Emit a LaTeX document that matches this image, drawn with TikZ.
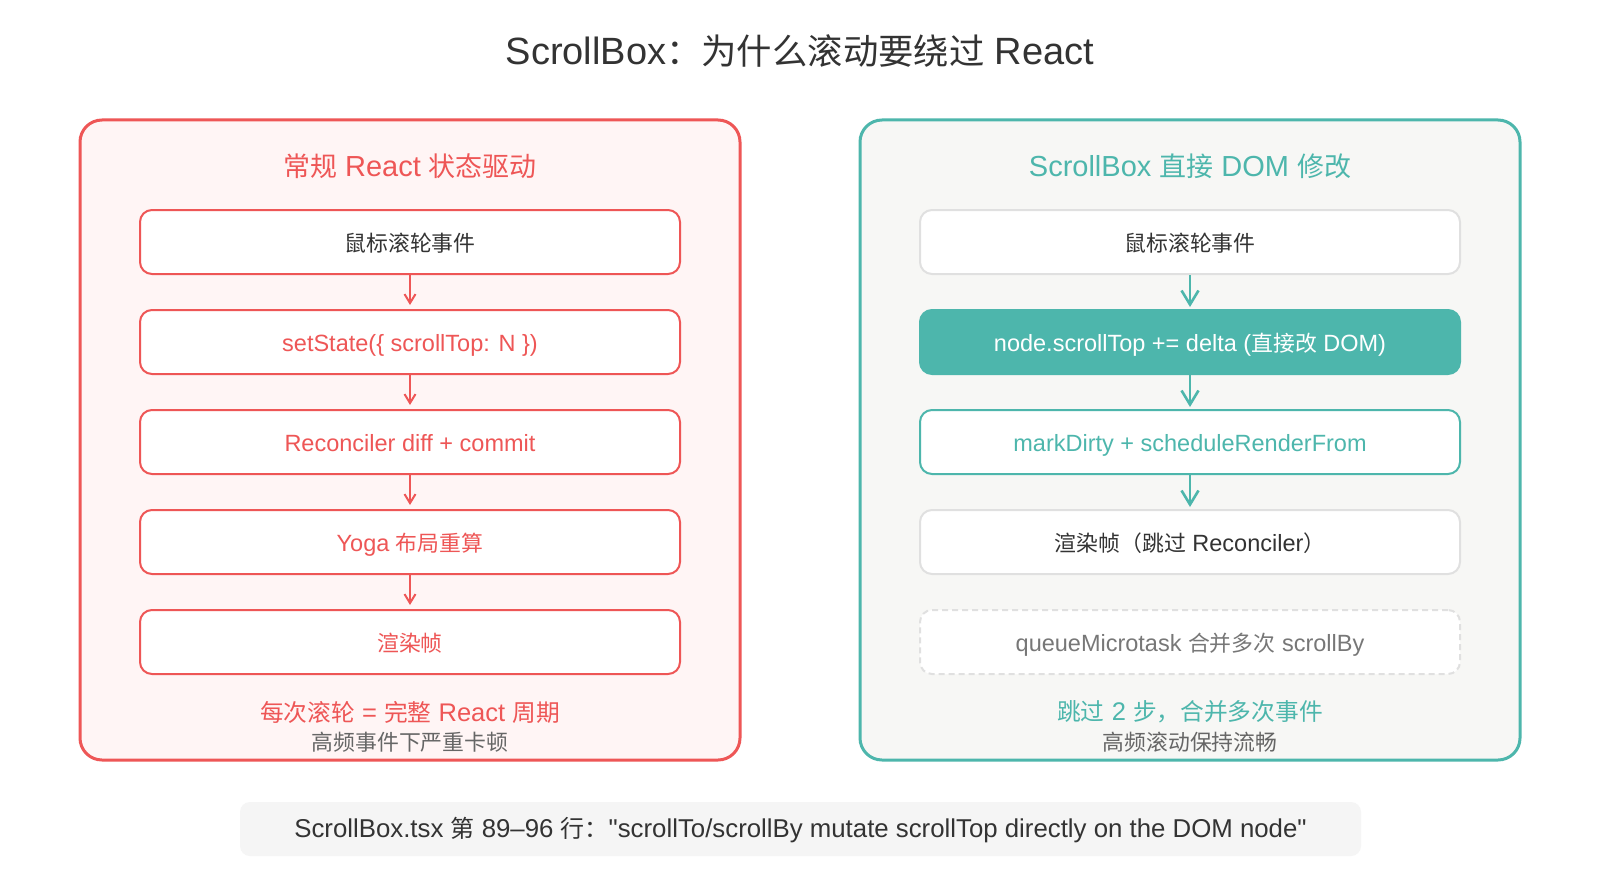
\documentclass[tikz,border=0pt]{standalone}
\usepackage{fontspec}
\setmainfont{Liberation Sans}[Ligatures=TeXOff]
\newfontfamily\cjkfont{Noto Sans CJK SC}[Scale=0.93]
\newcommand{\zh}[1]{{\cjkfont #1}}
\usetikzlibrary{arrows.meta}
\definecolor{cred}{HTML}{EE5656}
\definecolor{cteal}{HTML}{4DB6AC}
\definecolor{lfill}{HTML}{FFF5F5}
\definecolor{rfill}{HTML}{F7F7F5}
\definecolor{gborder}{HTML}{E0E0E0}
\definecolor{dtext}{HTML}{333333}
\definecolor{gtext}{HTML}{666666}
\definecolor{ltext}{HTML}{777777}
\definecolor{notefill}{HTML}{F5F5F5}
\newcommand{\fs}[1]{\fontsize{#1}{#1}\selectfont}
\tikzset{
  panelbox/.style={rectangle, rounded corners=22pt, line width=3pt, minimum width=660pt, minimum height=640pt},
  stepbox/.style={rectangle, rounded corners=12pt, line width=2pt, fill=white, minimum width=540pt, minimum height=64pt, inner sep=0pt, text height=20pt, text depth=2pt, font=\fs{23.5}},
  lstep/.style={stepbox, draw=cred, text=cred},
  larrow/.style={draw=cred, line width=2pt, shorten >=4pt, -{Straight Barb[length=9pt,width=11pt,line width=2pt]}},
  rarrow/.style={draw=cteal, line width=2.6pt, shorten >=2pt, -{Straight Barb[length=14pt,width=17pt,line width=2.6pt]}},
}
\begin{document}
\begin{tikzpicture}[x=1pt,y=-1pt]
\useasboundingbox[fill=white] (0,0) rectangle (1600,880);
% title
\node[font=\fs{38}, text=dtext] (title) at (800,51) {ScrollBox\zh{：为什么滚动要绕过} React};
% panels
\node[panelbox, draw=cred, fill=lfill] (lpanel) at (410,440) {};
\node[panelbox, draw=cteal, fill=rfill] (rpanel) at (1190,440) {};
\node[font=\fs{29}, text=cred] (ltitle) at (410,166) {\zh{常规} React \zh{状态驱动}};
\node[font=\fs{29}, text=cteal] (rtitle) at (1190,166) {ScrollBox \zh{直接} DOM \zh{修改}};
% left steps
\node[lstep, text=dtext] (l1) at (410,242) {\zh{鼠标滚轮事件}};
\node[lstep] (l2) at (410,342) {setState(\{ scrollTop: N \})};
\node[lstep] (l3) at (410,442) {Reconciler diff + commit};
\node[lstep] (l4) at (410,542) {Yoga \zh{布局重算}};
\node[lstep] (l5) at (410,642) {\zh{渲染帧}};
\draw[larrow] (l1.south) -- (l2.north);
\draw[larrow] (l2.south) -- (l3.north);
\draw[larrow] (l3.south) -- (l4.north);
\draw[larrow] (l4.south) -- (l5.north);
% right steps
\node[stepbox, draw=gborder, text=dtext] (r1) at (1190,242) {\zh{鼠标滚轮事件}};
\node[stepbox, draw=cteal, fill=cteal, text=white] (r2) at (1190,342) {node.scrollTop += delta (\zh{直接改} DOM)};
\node[stepbox, draw=cteal, text=cteal] (r3) at (1190,442) {markDirty + scheduleRenderFrom};
\node[stepbox, draw=gborder, text=dtext] (r4) at (1190,542) {\zh{渲染帧（跳过} Reconciler\zh{）}};
\node[stepbox, draw=gborder, dash pattern=on 6pt off 4pt, text=ltext] (r5) at (1190,642) {queueMicrotask \zh{合并多次} scrollBy};
\draw[rarrow] (r1.south) -- (r2.north);
\draw[rarrow] (r2.south) -- (r3.north);
\draw[rarrow] (r3.south) -- (r4.north);
% summaries
\node[font=\fs{25.5}, text=cred] (lsum) at (410,712) {\zh{每次滚轮} = \zh{完整} React \zh{周期}};
\node[font=\fs{23.5}, text=gtext] (lsub) at (410,742.5) {\zh{高频事件下严重卡顿}};
\node[font=\fs{25.5}, text=cteal] (rsum) at (1190,712) {\zh{跳过} 2 \zh{步，合并多次事件}};
\node[font=\fs{23.5}, text=gtext] (rsub) at (1190,742.5) {\zh{高频滚动保持流畅}};
% note
\node[rectangle, rounded corners=10pt, fill=notefill, minimum width=1121pt, minimum height=54pt, font=\fs{25.8}, text=dtext, text height=19pt, text depth=3pt] (note) at (800.5,829) {ScrollBox.tsx \zh{第} 89–96 \zh{行：}"scrollTo/scrollBy mutate scrollTop directly on the DOM node"};
\end{tikzpicture}
\end{document}
